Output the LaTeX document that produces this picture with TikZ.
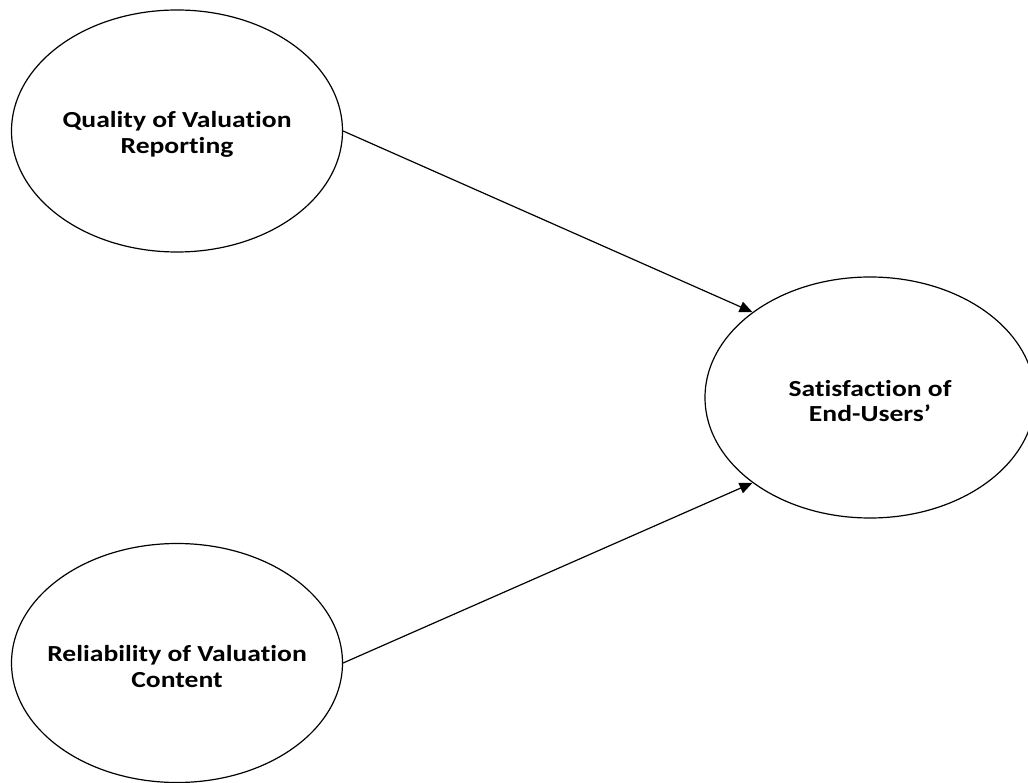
\documentclass[tikz,border=0pt]{standalone}
\usepackage{fontspec}
\setmainfont{Carlito}[Ligatures=NoCommon, FakeStretch=1.2]
\usetikzlibrary{shapes.geometric,arrows.meta}
\tikzset{
  construct/.style={draw=black, line width=1.2pt, ellipse, inner sep=0pt},
  caption/.style={align=center, inner sep=0pt, yshift=-3.5pt,
    font=\fontsize{23}{25.5}\selectfont\bfseries},
  link/.style={draw=black, line width=1.2pt, -{Triangle[length=13pt,width=11pt]}}
}
\begin{document}
\begin{tikzpicture}[x=1pt,y=-1pt]
\useasboundingbox (0,0) rectangle (1028,783);
\clip (0,0) rectangle (1028,783);
\node[construct, minimum width=331pt, minimum height=242pt,
  label={[caption]center:Quality of Valuation\\Reporting}] (q) at (177,131) {};
\node[construct, minimum width=331pt, minimum height=239pt,
  label={[caption]center:Reliability of Valuation\\Content}] (r) at (177,663) {};
\node[construct, minimum width=330pt, minimum height=241pt,
  label={[caption]center:Satisfaction of\\End-Users’}] (s) at (870,397.5) {};
\draw[link] (q.east) -- (s.144);
\draw[link] (r.east) -- (s.216);
\end{tikzpicture}
\end{document}
